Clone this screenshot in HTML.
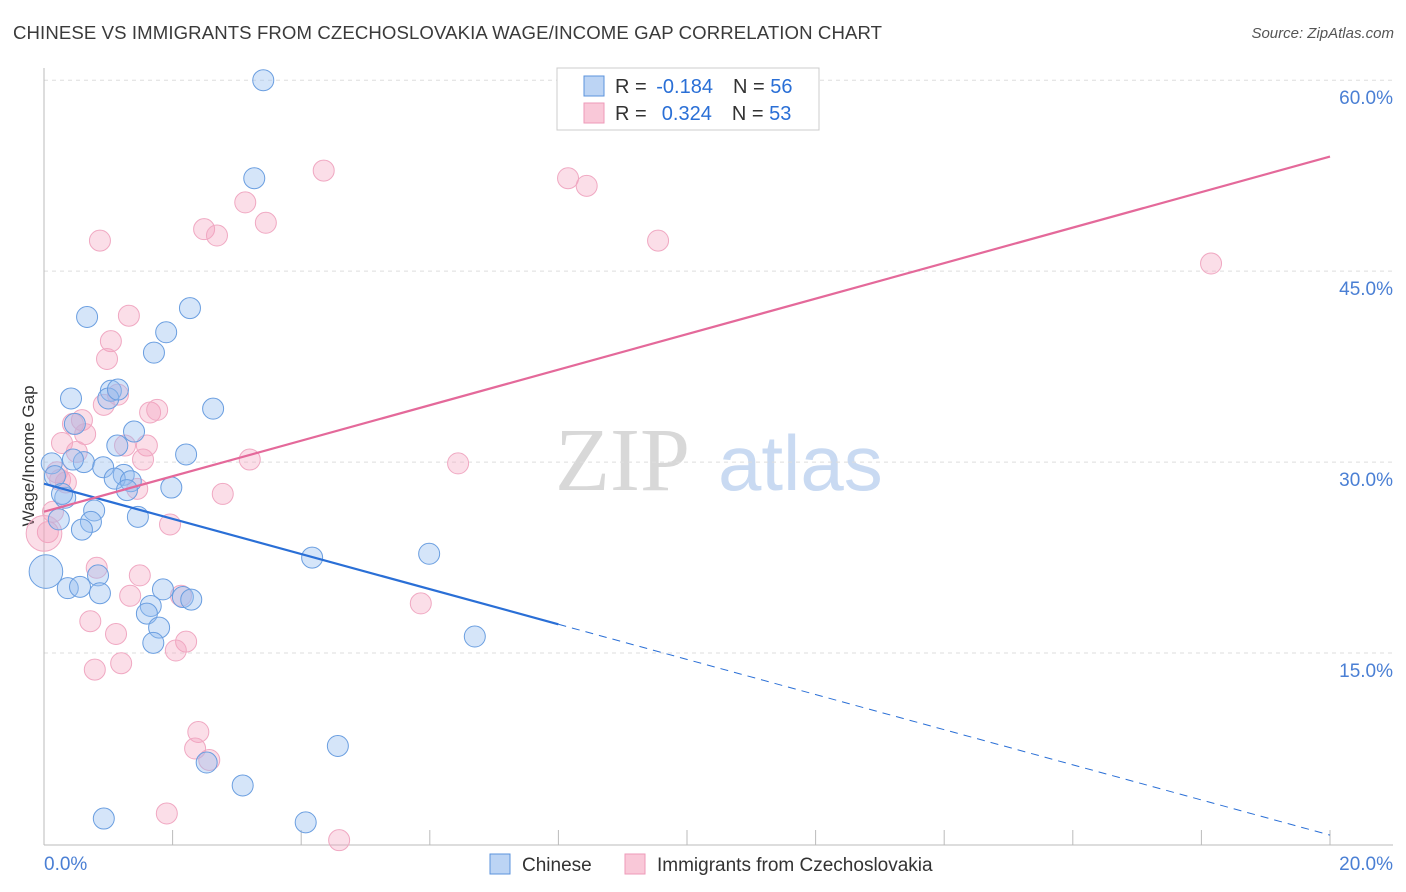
<!DOCTYPE html>
<html><head><meta charset="utf-8"><style>
body{margin:0;background:#fff;font-family:"Liberation Sans",sans-serif;}
#wrap{position:relative;width:1406px;height:892px;overflow:hidden;}
.t{position:absolute;white-space:nowrap;}
</style></head><body>
<div id="wrap">
<div class="t" style="left:13px;top:22px;font-size:18.6px;color:#3a3a3a;letter-spacing:0.1px">CHINESE VS IMMIGRANTS FROM CZECHOSLOVAKIA WAGE/INCOME GAP CORRELATION CHART</div>
<div class="t" style="right:12px;top:25px;font-size:15px;color:#555;font-style:italic">Source: ZipAtlas.com</div>
<svg id="svg" width="1406" height="892" style="position:absolute;left:0;top:0"></svg>
</div>
<script>
const xTicks=[0,2,4,6,8,10,12,14,16,18,20];
const yTicks=[15,30,45,60];
const yTickLabels=["15.0%","30.0%","45.0%","60.0%"];
const chineseX=[3.41,3.27,2.27,0.67,1.90,1.71,1.04,1.00,0.42,2.63,0.48,1.40,1.14,2.21,0.12,0.62,0.92,1.24,1.10,1.35,1.29,1.98,0.17,0.33,0.28,0.23,0.78,0.73,0.59,1.46,4.17,5.99,0.03,0.84,0.37,0.56,0.87,1.85,1.66,1.60,2.16,2.29,1.79,1.70,6.70,4.57,2.53,3.09,0.93,4.07,0.45,1.15];
const chineseY=[60.0,52.3,42.1,41.4,40.2,38.6,35.6,35.0,35.0,34.2,33.0,32.4,31.3,30.6,29.9,30.0,29.6,29.0,28.7,28.5,27.8,28.0,28.9,27.2,27.5,25.5,26.2,25.3,24.7,25.7,22.5,22.8,21.4,21.1,20.1,20.2,19.7,20.0,18.7,18.1,19.4,19.2,17.0,15.8,16.3,7.7,6.4,4.6,2.0,1.7,30.2,35.7];
const chineseSize=[1,1,1,1,1,1,1,1,1,1,1,1,1,1,1,1,1,1,1,1,1,1,1,1,1,1,1,1,1,1,1,1,1.6,1,1,1,1,1,1,1,1,1,1,1,1,1,1,1,1,1,1,1];
const czechX=[4.35,8.15,8.44,3.13,3.45,2.49,2.69,0.87,9.55,18.15,1.32,1.04,0.98,0.93,1.15,1.65,1.76,0.59,0.45,0.64,0.28,1.60,0.51,1.26,1.54,3.20,6.44,0.20,0.34,1.45,2.78,0.14,0.06,0.0,1.96,0.82,1.49,1.34,5.86,2.13,0.72,1.12,2.21,2.05,0.79,1.20,2.40,2.35,2.57,1.91,4.59,0.25];
const czechY=[52.9,52.3,51.7,50.4,48.8,48.3,47.8,47.4,47.4,45.6,41.5,39.5,38.1,34.5,35.3,33.9,34.1,33.3,33.0,32.2,31.5,31.3,30.8,31.3,30.2,30.2,29.9,29.2,28.4,27.9,27.5,26.1,24.5,24.4,25.1,21.7,21.1,19.5,18.9,19.5,17.5,16.5,15.9,15.2,13.7,14.2,8.8,7.5,6.6,2.4,0.3,28.6];
const czechSize=czechX.map((v,i)=>i===33?1.7:1);
const blueLine=[28.3,0.7];
const pinkLine=[26.1,54.0];
const X=v=>44+v*64.3, Y=v=>844-v*12.73;
const svg=document.getElementById('svg');
const NS='http://www.w3.org/2000/svg';
function mk(tag,attrs,parent){const e=document.createElementNS(NS,tag);for(const k in attrs)e.setAttribute(k,attrs[k]);(parent||svg).appendChild(e);return e;}
let wm=mk('text',{x:555,y:490,'font-size':90,'font-family':'Liberation Serif,serif',fill:'#d8d8d8'});wm.textContent='ZIP';


let wm2=mk('text',{x:718,y:490,'font-size':78,'font-family':'Liberation Sans,sans-serif',fill:'#c9daf2'});wm2.textContent='atlas';


yTicks.forEach((t,i)=>{
 const g=mk('line',{x1:44,x2:1393,y1:Y(t),y2:Y(t),stroke:'#ddd','stroke-dasharray':'4,4'});
 
 
 const l=mk('text',{x:1393,y:Y(t)+24,'text-anchor':'end','font-size':19,fill:'#4a7fd4'});l.textContent=yTickLabels[i];
 
 
});
const ya=mk('line',{x1:44,x2:44,y1:68,y2:845,stroke:'#bbb'});


const xa=mk('line',{x1:44,x2:1393,y1:845,y2:845,stroke:'#bbb'});


xTicks.forEach(t=>{const tk=mk('line',{x1:X(t),x2:X(t),y1:830,y2:845,stroke:'#bbb'});
 
 });
let xl=mk('text',{x:44,y:870,'font-size':19,fill:'#4a7fd4'});xl.textContent='0.0%';


let xr=mk('text',{x:1393,y:870,'text-anchor':'end','font-size':19,fill:'#4a7fd4'});xr.textContent='20.0%';


let yt=mk('text',{x:0,y:0,'font-size':17,fill:'#333','text-anchor':'middle',transform:'translate(34,456) rotate(-90)'});yt.textContent='Wage/Income Gap';


function pts(xs,ys,ss,fill,stroke,name){xs.forEach((v,i)=>{const c=mk('circle',{cx:X(v),cy:Y(ys[i]),r:10.5*ss[i],fill:fill,stroke:stroke,'stroke-width':1});
 
 });}
pts(czechX,czechY,czechSize,'rgba(244,160,190,0.35)','#f0a8c2','point-czechoslovakia');
pts(chineseX,chineseY,chineseSize,'rgba(150,190,240,0.4)','#6a9ee0','point-chinese');
const bx=8;const byv=blueLine[0]+(blueLine[1]-blueLine[0])*bx/20;
const b1=mk('line',{x1:X(0),y1:Y(blueLine[0]),x2:X(bx),y2:Y(byv),stroke:'#2a6fd6','stroke-width':2.2});


const b2=mk('line',{x1:X(bx),y1:Y(byv),x2:X(20),y2:Y(blueLine[1]),stroke:'#2a6fd6','stroke-width':1,'stroke-dasharray':'8,6'});


const p1=mk('line',{x1:X(0),y1:Y(pinkLine[0]),x2:X(20),y2:Y(pinkLine[1]),stroke:'#e4699a','stroke-width':2.2});


const lg=mk('rect',{x:557,y:68,width:262,height:62,fill:'#fff',stroke:'#ccc'});


function row(y,fill,stroke,r,n){mk('rect',{x:584,y:y-10,width:20,height:20,fill:fill,stroke:stroke});
 const t=mk('text',{x:615,y:y+7,'font-size':20,fill:'#333'});
 t.innerHTML='R = <tspan fill="#2a6fd6" dx="4">'+r+'</tspan><tspan dx="20">N = </tspan><tspan fill="#2a6fd6">'+n+'</tspan>';
 
 }
row(86,'#bcd4f4','#5b93dc','-0.184','56');
row(113,'#f9c8d8','#ee9ab8','\u00a00.324','53');
function bl(x,fill,stroke,label,name){const r=mk('rect',{x:x,y:854,width:20,height:20,fill:fill,stroke:stroke});
 
 
 const t=mk('text',{x:x+32,y:871,'font-size':19,fill:'#333'});t.textContent=label;
 
 }
bl(490,'#bcd4f4','#5b93dc','Chinese','legend-chinese');
bl(625,'#f9c8d8','#ee9ab8','Immigrants from Czechoslovakia','legend-czechoslovakia');
</script>
</body></html>
